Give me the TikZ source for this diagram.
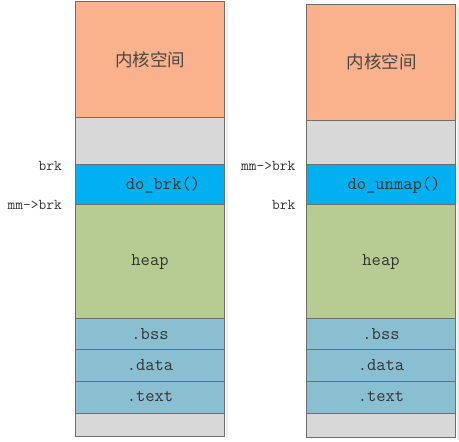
\documentclass[tikz,border=0pt]{standalone}
\usepackage{fontspec}
\newfontfamily\cjk{Noto Sans CJK SC}
\definecolor{kern}{HTML}{F9B28C}
\definecolor{gap}{HTML}{D8D8D8}
\definecolor{brkc}{HTML}{00B0F0}
\definecolor{heapc}{HTML}{B6CC92}
\definecolor{segc}{HTML}{8ABFD2}
\definecolor{edge}{HTML}{6E6E6E}
\definecolor{txt}{HTML}{333333}
\tikzset{
  seg/.style={draw=edge, line width=0.9pt},
  lbl/.style={font=\ttfamily\fontsize{18}{18}\selectfont, text=txt, inner sep=0pt},
  side/.style={font=\ttfamily\fontsize{15}{15}\selectfont, text=txt, inner sep=0pt, anchor=east},
  cn/.style={font=\cjk\fontsize{17.5}{18}\selectfont, text=txt!90, inner sep=0pt},
  shadowc/.style={fill=black!8, draw=none}
}
\begin{document}
\begin{tikzpicture}[x=1pt,y=-1pt]
\useasboundingbox (0,0) rectangle (459,442);
% shadows
\fill[black!7] (226,4) rectangle (228,438);
\fill[black!7] (457,7) rectangle (459,439.5);
% left column
\path[seg, fill=kern]  (75,1.5)  rectangle (224,117.3);
\path[seg, fill=gap]   (75,117.3) rectangle (224,164.3);
\path[seg, fill=brkc]  (75,164.3) rectangle (224,204.3);
\path[seg, fill=heapc] (75,204.3) rectangle (224,318.7);
\path[seg, fill=segc]  (75,318.7) rectangle (224,349.3);
\path[seg, fill=segc]  (75,349.3) rectangle (224,381.3);
\path[seg, fill=segc]  (75,381.3) rectangle (224,413.3);
\path[seg, fill=gap]   (75,413.3) rectangle (224,436);
% right column
\path[seg, fill=kern]  (306.3,4.3)  rectangle (455.5,120.3);
\path[seg, fill=gap]   (306.3,120.3) rectangle (455.5,164.3);
\path[seg, fill=brkc]  (306.3,164.3) rectangle (455.5,204.3);
\path[seg, fill=heapc] (306.3,204.3) rectangle (455.5,318.7);
\path[seg, fill=segc]  (306.3,318.7) rectangle (455.5,349.3);
\path[seg, fill=segc]  (306.3,349.3) rectangle (455.5,381.3);
\path[seg, fill=segc]  (306.3,381.3) rectangle (455.5,413.3);
\path[seg, fill=gap]   (306.3,413.3) rectangle (455.5,437.3);
% left texts
\node[cn]  (lk) at (150,60) {内核空间};
\node[lbl] (ld) at (163,185) {do\_brk()};
\node[lbl] (lh) at (150,262) {heap};
\node[lbl] (lb) at (150,334) {.bss};
\node[lbl] (lda) at (150,365.5) {.data};
\node[lbl] (lt) at (150,397) {.text};
\node[side] (lbrk) at (62,165.5) {brk};
\node[side] (lmm) at (62,205) {mm->brk};
% right texts
\node[cn]  (rk) at (381.5,62) {内核空间};
\node[lbl] (rd) at (394,185) {do\_unmap()};
\node[lbl] (rh) at (381,262) {heap};
\node[lbl] (rb) at (381,334) {.bss};
\node[lbl] (rda) at (381,365.5) {.data};
\node[lbl] (rt) at (381,397) {.text};
\node[side] (rmm) at (295.5,165.5) {mm->brk};
\node[side] (rbrk) at (295.5,204.5) {brk};
\end{tikzpicture}
\end{document}
